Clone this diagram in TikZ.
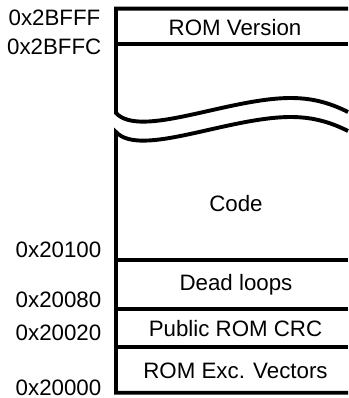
\documentclass[tikz,border=0pt]{standalone}
\usepackage{fontspec}
\setmainfont{Liberation Sans}
\begin{document}
\begin{tikzpicture}[x=1pt,y=-1pt,
  rowtext/.style={font=\fontsize{22.3}{26}\selectfont, anchor=base, inner sep=0pt},
  addr/.style={font=\fontsize{22.3}{26}\selectfont, anchor=base east, inner sep=0pt},
  frame/.style={draw=black, line width=3.9pt, line join=miter}]
\useasboundingbox (0,0) rectangle (348,398);
% outline upper part with wave
\draw[frame] (348,8.7) -- (116,8.7) -- (116,113)
  .. controls (140,139) and (228,98) .. (291,98)
  .. controls (316,98) and (334,105) .. (348,112);
% outline lower part with wave
\draw[frame] (348,392.7) -- (116,392.7) -- (116,132)
  .. controls (140,158) and (228,117) .. (291,117)
  .. controls (316,117) and (334,124) .. (348,131);
% row separators
\draw[frame] (116,43.7) -- (348,43.7);
\draw[frame] (116,260.3) -- (348,260.3);
\draw[frame] (116,309.3) -- (348,309.3);
\draw[frame] (116,347) -- (348,347);
% row texts
\node[rowtext] (romver) at (235,35.7) {ROM Version};
\node[rowtext] (code) at (236,211) {Code};
\node[rowtext] (dead) at (236,290.5) {Dead loops};
\node[rowtext] (crc) at (235.5,336) {Public ROM CRC};
\node[rowtext] (vec) at (235.5,378) {ROM Exc. Vectors};
% addresses
\node[addr] (a1) at (100.5,26) {0x2BFFF};
\node[addr] (a2) at (101.5,55) {0x2BFFC};
\node[addr] (a3) at (101.5,257) {0x20100};
\node[addr] (a4) at (101.5,307) {0x20080};
\node[addr] (a5) at (101.5,340) {0x20020};
\node[addr] (a6) at (101.5,395.3) {0x20000};
\end{tikzpicture}
\end{document}
